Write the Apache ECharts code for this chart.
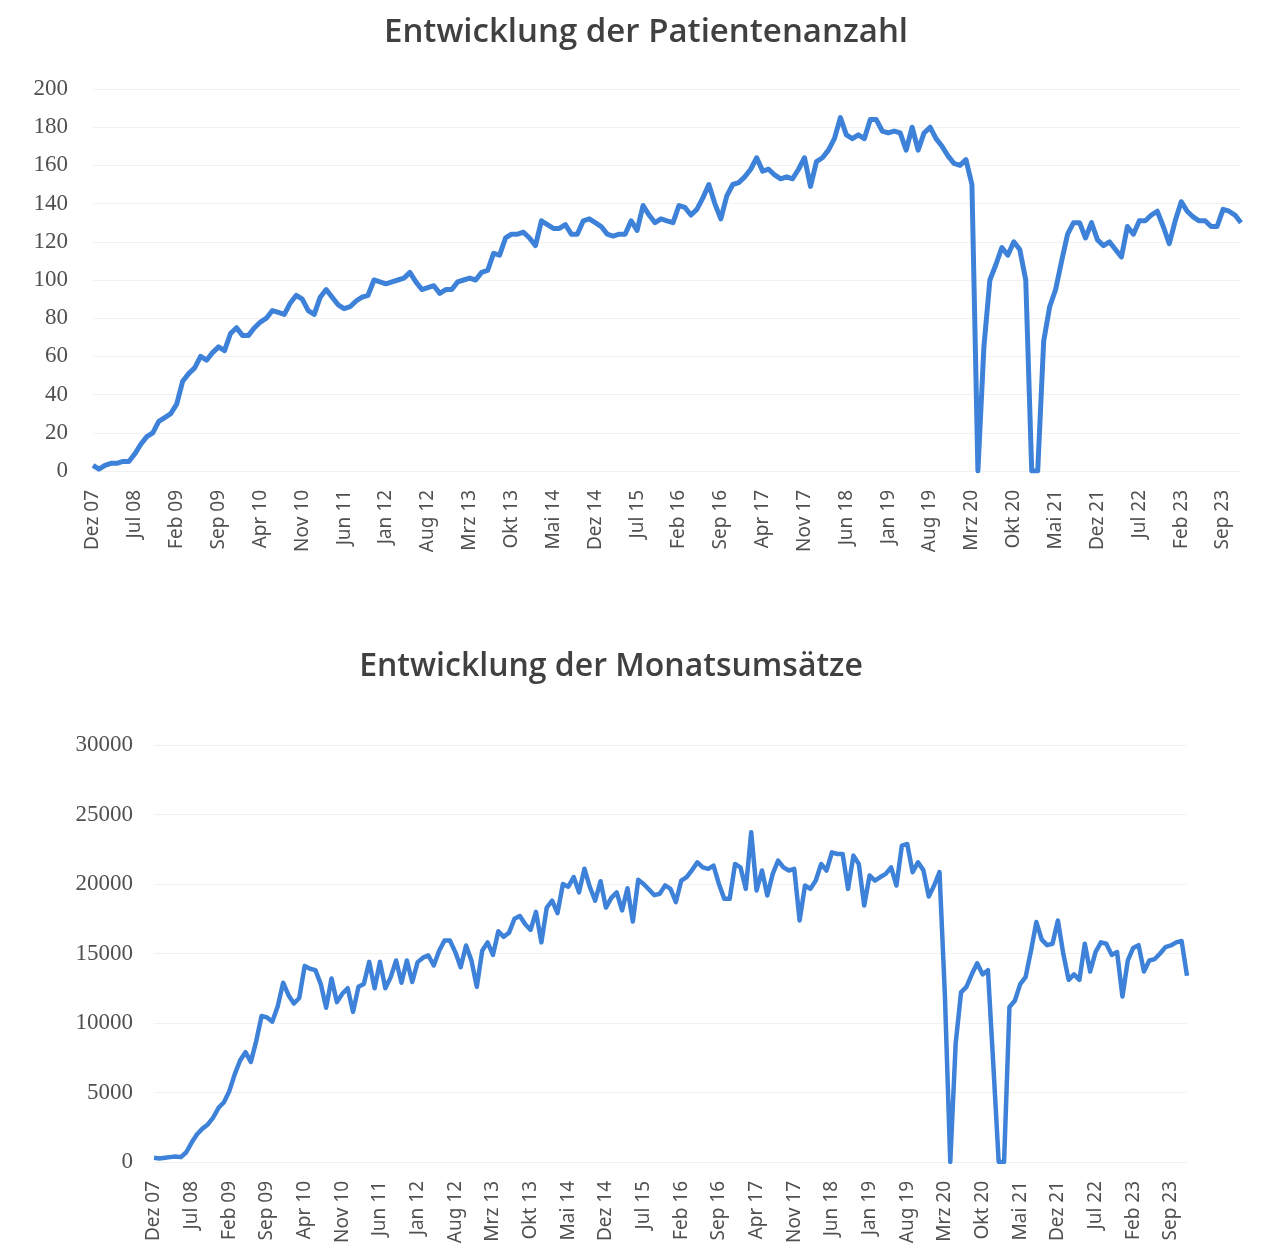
<!DOCTYPE html>
<html>
<head>
<meta charset="utf-8">
<script src="https://cdn.jsdelivr.net/npm/echarts@6/dist/echarts.min.js"></script>
<style>
  html, body { margin: 0; padding: 0; background: #ffffff; }
  #chart { width: 1263px; height: 1254px; }
</style>
</head>
<body>
<div id="chart"></div>
<script>
// ---- Data ----
const monthNames = ['Jan','Feb','Mrz','Apr','Mai','Jun','Jul','Aug','Sep','Okt','Nov','Dez'];
const startMonth = 11;   // Dez
const startYear = 2007;
const monthCount = 193;  // Dez 07 .. Dez 23

const titleTop = 'Entwicklung der Patientenanzahl';
const titleBottom = 'Entwicklung der Monatsumsätze';

const patients = [
  3,1,3,4,4,5,5,9,14,18,
  20,26,28,30,35,47,51,54,60,58,
  62,65,63,72,75,71,71,75,78,80,
  84,83,82,88,92,90,84,82,91,95,
  91,87,85,86,89,91,92,100,99,98,
  99,100,101,104,99,95,96,97,93,95,
  95,99,100,101,100,104,105,114,113,122,
  124,124,125,122,118,131,129,127,127,129,
  124,124,131,132,130,128,124,123,124,124,
  131,126,139,134,130,132,131,130,139,138,
  134,137,143,150,140,132,144,150,151,154,
  158,164,157,158,155,153,154,153,158,164,
  149,162,164,168,174,185,176,174,176,174,
  184,184,178,177,178,177,168,180,168,177,
  180,174,170,165,161,160,163,150,0,65,
  100,108,117,113,120,116,100,0,0,68,
  86,95,110,124,130,130,122,130,121,118,
  120,116,112,128,124,131,131,134,136,128,
  119,131,141,136,133,131,131,128,128,137,
  136,134,130
];

const revenue = [
  300,250,300,350,400,350,700,1400,2000,2400,
  2700,3200,3900,4300,5100,6300,7300,7900,7200,8700,
  10500,10400,10100,11200,12900,12000,11400,11800,14100,13900,
  13800,12800,11100,13200,11500,12100,12500,10800,12600,12800,
  14400,12500,14400,12500,13300,14500,12900,14500,12950,14380,
  14700,14860,14140,15200,15940,15940,15100,14020,15580,14500,
  12600,15200,15800,14900,16600,16200,16500,17500,17700,17100,
  16700,18000,15800,18300,18800,17900,20000,19800,20500,19400,
  21100,19800,18800,20200,18300,19000,19400,18100,19700,17300,
  20300,20000,19600,19200,19300,19900,19650,18700,20250,20500,
  21000,21560,21200,21090,21320,20000,18930,18930,21440,21200,
  19650,23720,19530,20970,19170,20730,21680,21200,20970,21090,
  17380,19890,19650,20250,21440,20970,22280,22160,22160,19650,
  22040,21440,18450,20610,20250,20500,20730,21200,19890,22760,
  22880,20850,21560,21000,19100,19890,20850,12000,0,8500,
  12200,12600,13500,14300,13500,13800,7000,0,0,11150,
  11600,12800,13300,15200,17260,16000,15600,15700,17380,15000,
  13100,13500,13100,15700,13700,15100,15800,15700,14900,15100,
  11900,14500,15400,15600,13700,14500,14600,15000,15460,15580,
  15800,15900,13400
];

const categories = [];
for (let k = 0; k < monthCount; k++) {
  const m = (startMonth + k) % 12;
  const y = startYear + Math.floor((startMonth + k) / 12);
  categories.push(monthNames[m] + ' ' + String(y % 100).padStart(2, '0'));
}

// ---- Chart ----
const chart = echarts.init(document.getElementById('chart'), null, { renderer: 'canvas' });
const lineColor = '#3d82d8';
const textGrey = '#505050';

function xAxisCfg(gridIndex) {
  return {
    type: 'category', gridIndex, data: categories, boundaryGap: false,
    axisLine: { show: false }, axisTick: { show: false },
    axisLabel: {
      interval: 6, rotate: 90, margin: 19,
      fontFamily: 'Noto Sans', fontSize: 19, color: textGrey
    },
    splitLine: { show: false }
  };
}
function yAxisCfg(gridIndex, max, interval, margin) {
  return {
    type: 'value', gridIndex, min: 0, max, interval,
    axisLine: { show: false }, axisTick: { show: false },
    axisLabel: { fontFamily: 'Liberation Serif', fontSize: 23, color: textGrey, margin,
      formatter: function (v) { return String(v); } },
    splitLine: { show: true, lineStyle: { color: '#f1f1f1', width: 1 } }
  };
}

chart.setOption({
  animation: false,
  backgroundColor: '#ffffff',
  graphic: [
    { type: 'text', x: 646, y: 33,
      style: { text: titleTop, fill: '#404040', font: '600 33px "Open Sans"', textAlign: 'center', textVerticalAlign: 'middle' } },
    { type: 'text', x: 611, y: 667,
      style: { text: titleBottom, fill: '#404040', font: '600 32px "Open Sans"', textAlign: 'center', textVerticalAlign: 'middle' } }
  ],
  grid: [
    { left: 93, top: 89, width: 1148, height: 382 },
    { left: 154, top: 745, width: 1033, height: 417 }
  ],
  xAxis: [xAxisCfg(0), xAxisCfg(1)],
  yAxis: [yAxisCfg(0, 200, 20, 25), yAxisCfg(1, 30000, 5000, 21)],
  series: [
    { type: 'line', xAxisIndex: 0, yAxisIndex: 0, data: patients, showSymbol: false,
      lineStyle: { color: lineColor, width: 5, join: 'round' }, itemStyle: { color: lineColor } },
    { type: 'line', xAxisIndex: 1, yAxisIndex: 1, data: revenue, showSymbol: false,
      lineStyle: { color: lineColor, width: 4.5, join: 'round' }, itemStyle: { color: lineColor } }
  ]
});
</script>
</body>
</html>
